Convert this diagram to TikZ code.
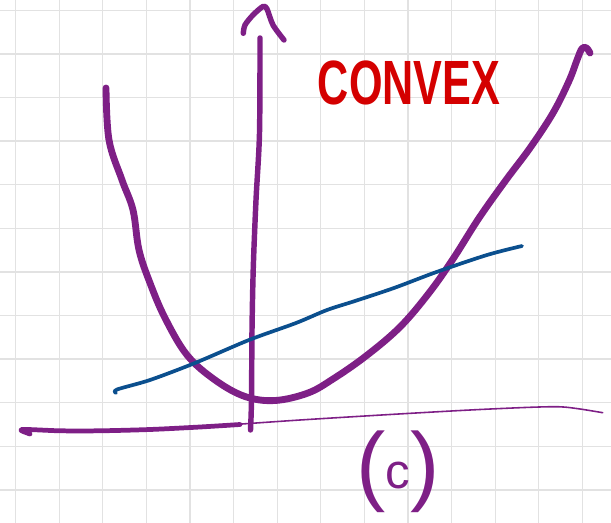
\documentclass[tikz,border=0pt]{standalone}
\usepackage{fontspec}
\setmainfont{Liberation Sans}
\usepackage{xcolor}
\definecolor{plum}{HTML}{7E1F86}
\definecolor{marker}{HTML}{D40000}
\definecolor{ink}{HTML}{0B4F8E}
\definecolor{gridgray}{HTML}{E2E2E2}
\usetikzlibrary{calc}
\tikzset{
  gridline/.style={draw=gridgray,line width=0.75pt},
  curve/.style   ={draw=plum,line width=3.9pt,line cap=round,line join=round},
  axis/.style    ={draw=plum,line width=3.1pt,line cap=round,line join=round},
  thinaxis/.style={draw=plum,line width=0.9pt,line cap=round},
  chord/.style   ={draw=ink,line width=2.1pt,line cap=round,line join=round},
  title/.style   ={font=\bfseries\fontsize{35.6}{36}\selectfont,text=marker,inner sep=0pt},
  lbl/.style     ={text=plum,inner sep=0pt},
}

\begin{document}
\begin{tikzpicture}[x=0.02cm,y=-0.02cm]
\useasboundingbox (0,0) rectangle (611,523);
%---------------- grid
\foreach \i in {0,...,13} \draw[gridline] ({15.6+43.6*\i},0) -- ({15.6+43.6*\i},523);
\foreach \j in {0,...,11} \draw[gridline] (0,{10.3+43.6*\j}) -- (611,{10.3+43.6*\j});
%---------------- axes
\draw[axis,line width=2.7pt] plot[smooth,tension=0.5] coordinates
  {(30,434) (21.5,429.5) (60,430.8) (100,430.8) (150,429.5) (200,427) (240,424.5)};
\draw[thinaxis] plot[smooth] coordinates
  {(235,424.5) (300,420) (390,414.5) (470,410) (530,407.3) (560,406.8) (580,409) (602.7,412.7)};
\draw[axis] plot[smooth] coordinates
  {(260,38) (259.5,133) (256,200) (253.3,267) (252,330) (251.5,400) (250.5,430)};
\draw[axis] plot[smooth,tension=0.5] coordinates
  {(243.3,33.3) (245,25) (253,15) (263,6.5) (267,9) (273,25) (284,40)};
%---------------- convex function
\draw[curve] plot[smooth,tension=0.6] coordinates
  {(106,88) (109,140) (122,180) (133,210) (139,250) (150,283) (165,318) (187,355)
   (215,380) (245,396.5) (275,400.5) (308,393) (333,379) (366,356) (400,327)
   (429,293) (453,259) (479,218) (506,180) (530,148) (553,113) (569,81)
   (577,60) (582,48.5) (586.5,48) (590,53)};
%---------------- chord
\draw[chord] plot[smooth,tension=0.5] coordinates
  {(116,393) (117,389.5) (150,380) (195,363) (249,340) (296,323) (327,310)
   (355,301) (394,288) (436.5,272) (487,255) (522,246)};
%---------------- labels
\node[title] (convex) at (409,83) {\scalebox{0.69}[1]{CONVEX}};
\node[lbl,anchor=base] (tag) at (398,494)
  {\fontsize{50}{50}\selectfont(\fontsize{28}{28}\selectfont\raisebox{3pt}{c}\fontsize{50}{50}\selectfont)};
\end{tikzpicture}
\end{document}
